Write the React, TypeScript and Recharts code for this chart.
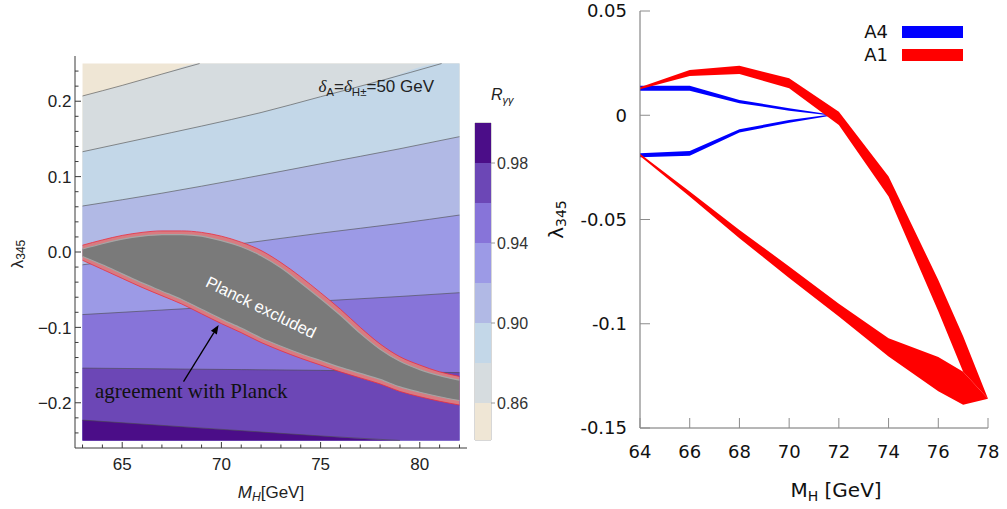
import React from "react";
import {
  Area,
  Bar,
  BarChart,
  ComposedChart,
  Legend,
  ReferenceArea,
  ReferenceDot,
  ReferenceLine,
  XAxis,
  YAxis,
} from "recharts";

const SANS = "'Liberation Sans', Arial, sans-serif";
const SERIF = "'Liberation Serif', 'Times New Roman', serif";
const GNU = "'DejaVu Sans', sans-serif";

// ---------- left panel: R_gammagamma contours ----------
const massTicks = [63, 64, 65, 66, 67, 68, 69, 70, 71, 72, 73, 74, 75, 76, 77, 78, 79, 80, 81, 82];
const massMajor = [65, 70, 75, 80];
const lambdaTicks = [
  -0.24, -0.22, -0.2, -0.18, -0.16, -0.14, -0.12, -0.1, -0.08, -0.06, -0.04, -0.02, 0,
  0.02, 0.04, 0.06, 0.08, 0.1, 0.12, 0.14, 0.16, 0.18, 0.2, 0.22, 0.24,
];
const lambdaMajor = [-0.2, -0.1, 0, 0.1, 0.2];
const massRange = [63, 82];
const lambdaRange = [-0.25, 0.25];

// R levels and band colours (low R -> high R)
const rLevels = [0.84, 0.86, 0.88, 0.9, 0.92, 0.94, 0.96, 0.98, 1.0];
const rColors = ["#efe6d5", "#d6dcdf", "#c3d7e8", "#b1b9e5", "#9c9ae6", "#8774d9", "#6c47b6", "#4b0d88"];
const rColorbarTicks = [0.86, 0.9, 0.94, 0.98];

const contour086 = [
  { m: 63, l: 0.207 }, { m: 65, l: 0.221 }, { m: 67, l: 0.236 }, { m: 68.9, l: 0.25 },
];
const contour088 = [
  { m: 63, l: 0.133 }, { m: 66, l: 0.15 }, { m: 69, l: 0.167 }, { m: 72, l: 0.185 },
  { m: 75, l: 0.206 }, { m: 78, l: 0.227 }, { m: 81.1, l: 0.25 },
];
const contour090 = [
  { m: 63, l: 0.061 }, { m: 67, l: 0.078 }, { m: 71, l: 0.097 }, { m: 75, l: 0.117 },
  { m: 79, l: 0.137 }, { m: 82, l: 0.153 },
];
const contour092 = [
  { m: 63, l: -0.017 }, { m: 67, l: -0.003 }, { m: 71, l: 0.011 }, { m: 75, l: 0.025 },
  { m: 79, l: 0.038 }, { m: 82, l: 0.049 },
];
const contour094 = [
  { m: 63, l: -0.083 }, { m: 67, l: -0.077 }, { m: 71, l: -0.071 }, { m: 75, l: -0.065 },
  { m: 79, l: -0.059 }, { m: 82, l: -0.054 },
];
const contour096 = [
  { m: 63, l: -0.154 }, { m: 67, l: -0.155 }, { m: 71, l: -0.156 }, { m: 75, l: -0.157 },
  { m: 79, l: -0.159 }, { m: 82, l: -0.16 },
];
const contour098 = [
  { m: 63, l: -0.223 }, { m: 67, l: -0.23 }, { m: 71, l: -0.237 }, { m: 75, l: -0.244 },
  { m: 79, l: -0.25 },
];
const contours = [contour086, contour088, contour090, contour092, contour094, contour096, contour098];

// Planck-excluded region
const blobMass = [63, 64, 65, 66, 67, 68, 69, 70, 71, 72, 73, 74, 75, 76, 77, 78, 79, 80, 81, 82];
const blobUpper = [0.009, 0.016, 0.022, 0.026, 0.028, 0.028, 0.026, 0.021, 0.013, 0.002, -0.014, -0.033, -0.054, -0.076, -0.1, -0.122, -0.139, -0.15, -0.159, -0.165];
const blobUpperIn = [0.004, 0.011, 0.017, 0.021, 0.023, 0.023, 0.021, 0.015, 0.007, -0.005, -0.021, -0.041, -0.062, -0.084, -0.108, -0.129, -0.145, -0.156, -0.164, -0.17];
const blobLower = [-0.011, -0.023, -0.035, -0.047, -0.058, -0.069, -0.082, -0.095, -0.107, -0.12, -0.131, -0.141, -0.15, -0.159, -0.167, -0.175, -0.185, -0.192, -0.198, -0.203];
const blobLowerIn = [-0.006, -0.017, -0.029, -0.041, -0.052, -0.063, -0.076, -0.089, -0.101, -0.114, -0.125, -0.135, -0.144, -0.153, -0.161, -0.169, -0.179, -0.186, -0.192, -0.197];

// ---------- right panel: A1 / A4 bands ----------
const gnuMassTicks = [64, 66, 68, 70, 72, 74, 76, 78];
const gnuLambdaTicks = [-0.15, -0.1, -0.05, 0, 0.05];

const a1Mass = [64, 66, 68, 70, 72, 74, 76, 77, 78];
const a1UpperLo = [0.0125, 0.0188, 0.0198, 0.0129, -0.0047, -0.039, -0.094, -0.123, -0.136];
const a1UpperHi = [0.0134, 0.0217, 0.0238, 0.0177, 0.0017, -0.0294, -0.079, -0.106, -0.136];
const a1LowerLo = [-0.0196, -0.039, -0.059, -0.078, -0.0965, -0.1157, -0.1324, -0.1388, -0.136];
const a1LowerHi = [-0.0185, -0.0366, -0.055, -0.0725, -0.0904, -0.1069, -0.116, -0.123, -0.136];

const a4Mass = [64, 66, 68, 70, 71.6];
const a4UpperLo = [0.0118, 0.0118, 0.0058, 0.0022, 0.0];
const a4UpperHi = [0.0141, 0.0142, 0.0073, 0.0034, 0.0005];
const a4LowerLo = [-0.0201, -0.0194, -0.0083, -0.0036, -0.0003];
const a4LowerHi = [-0.0182, -0.0171, -0.0067, -0.0023, 0.0002];

const legendItems = [
  { name: "A4", color: "#0000ff" },
  { name: "A1", color: "#ff0000" },
];

// ---------- helpers ----------
type Side = "bottom" | "top" | "left" | "right";
interface TickCfg {
  side: Side;
  gap: number;
  majors: number[];
  majorLen: number;
  minorLen: number;
  stroke: string;
  format?: (v: number) => string;
  family?: string;
  size?: number;
  fill?: string;
  dy?: string;
}

const makeTick = (c: TickCfg) => (p: any) => {
  const { x, y } = p;
  const v = p.payload.value as number;
  const isMajor = c.majors.some((t) => Math.abs(t - v) < 1e-9);
  const len = isMajor ? c.majorLen : c.minorLen;
  let x1 = x, y1 = y, x2 = x, y2 = y;
  if (c.side === "bottom") { y1 = y - c.gap; y2 = y1 - len; }
  if (c.side === "top") { y1 = y + c.gap; y2 = y1 + len; }
  if (c.side === "left") { x1 = x + c.gap; x2 = x1 + len; }
  if (c.side === "right") { x1 = x - c.gap; x2 = x1 - len; }
  return (
    <g>
      <line x1={x1} y1={y1} x2={x2} y2={y2} stroke={c.stroke} strokeWidth={1} />
      {c.format && isMajor && (
        <text
          x={x}
          y={y}
          dy={c.dy}
          textAnchor={c.side === "left" ? "end" : "middle"}
          fontFamily={c.family}
          fontSize={c.size}
          fill={c.fill}
        >
          {c.format(v)}
        </text>
      )}
    </g>
  );
};

const fmtLambda = (v: number) =>
  v === 0 ? "0.0" : v < 0 ? "\u2212" + Math.abs(v).toFixed(1) : v.toFixed(1);

const toFill = (pts: { m: number; l: number }[]) => {
  const last = pts[pts.length - 1];
  return last.m < massRange[1] ? [...pts, { m: massRange[1], l: last.l }] : pts;
};

const blobRows = blobMass.map((m, i) => ({
  m,
  outer: [blobLower[i], blobUpper[i]],
  inner: [blobLowerIn[i], blobUpperIn[i]],
}));
const baseRows = [
  { m: massRange[0], l: lambdaRange[1] },
  { m: massRange[1], l: lambdaRange[1] },
];

const bandRows = (mass: number[], lo: number[], hi: number[]) =>
  mass.map((m, i) => ({ m, v: [lo[i], hi[i]] }));

const FRAME = "#3a3a3a";
const LEFT_DOMAIN_X: [number, number] = [62.62, 82.38];
const LEFT_DOMAIN_Y: [number, number] = [-0.26, 0.26];

const leftXLabel = (props: any) => {
  const { x, y, width } = props.viewBox;
  return (
    <text x={x + width / 2} y={y + 50} textAnchor="middle" fontFamily={SANS} fontSize={17} fill="#222">
      <tspan fontStyle="italic">M</tspan>
      <tspan fontStyle="italic" fontSize={12} dy={3}>H</tspan>
      <tspan dy={-3}>[GeV]</tspan>
    </text>
  );
};

const leftYLabel = (props: any) => {
  const { x, y, height } = props.viewBox;
  const cx = x + 17;
  const cy = y + height / 2 + 2;
  return (
    <text
      transform={`rotate(-90 ${cx} ${cy})`}
      x={cx}
      y={cy}
      textAnchor="middle"
      dominantBaseline="central"
      fontFamily={SANS}
      fontSize={17}
      fill="#222"
    >
      <tspan>λ</tspan>
      <tspan fontSize={12} dy={4}>345</tspan>
    </text>
  );
};

const arrowShape = (p: any) => {
  const { x1, y1, x2, y2 } = p;
  const dx = x2 - x1;
  const dy = y2 - y1;
  const len = Math.sqrt(dx * dx + dy * dy) || 1;
  const ux = dx / len;
  const uy = dy / len;
  const hl = 9;
  const hw = 3.5;
  const bx = x2 - ux * hl;
  const by = y2 - uy * hl;
  return (
    <g>
      <line x1={x1} y1={y1} x2={bx} y2={by} stroke="#000" strokeWidth={1.3} />
      <polygon
        points={`${x2},${y2} ${bx - uy * hw},${by + ux * hw} ${bx + uy * hw},${by - ux * hw}`}
        fill="#000"
      />
    </g>
  );
};

const LeftPanel = () => (
  <ComposedChart width={530} height={509} margin={{ top: 56, right: 63, bottom: 0, left: 0 }}>
    <Area
      data={baseRows}
      dataKey="l"
      type="linear"
      baseValue={lambdaRange[0]}
      fill={rColors[0]}
      fillOpacity={1}
      stroke="none"
      isAnimationActive={false}
    />
    {contours.map((c, i) => (
      <Area
        key={"a" + i}
        data={toFill(c)}
        dataKey="l"
        type="monotone"
        baseValue={lambdaRange[0]}
        fill={rColors[i + 1]}
        fillOpacity={1}
        stroke="none"
        isAnimationActive={false}
      />
    ))}
    {contours.map((c, i) => (
      <Area
        key={"l" + i}
        data={c}
        dataKey="l"
        type="monotone"
        baseValue={lambdaRange[0]}
        fill="none"
        stroke="#4a4a4a"
        strokeOpacity={0.75}
        strokeWidth={0.8}
        isAnimationActive={false}
      />
    ))}
    <Area
      data={blobRows}
      dataKey="outer"
      type="monotone"
      fill="#d87b81"
      fillOpacity={1}
      stroke="#ee2c3c"
      strokeWidth={0.8}
      isAnimationActive={false}
    />
    <Area
      data={blobRows}
      dataKey="inner"
      type="monotone"
      fill="#7a7a7a"
      fillOpacity={1}
      stroke="#a5a5a5"
      strokeWidth={1.2}
      isAnimationActive={false}
    />
    <ReferenceDot
      x={72.0}
      y={-0.073}
      r={0}
      shape={(p: any) => (
        <text
          x={p.cx}
          y={p.cy}
          transform={`rotate(26 ${p.cx} ${p.cy})`}
          textAnchor="middle"
          dominantBaseline="central"
          fill="#ffffff"
          fontFamily={SANS}
          fontSize={16.5}
        >
          Planck excluded
        </text>
      )}
    />
    <ReferenceDot
      x={63.63}
      y={-0.1937}
      r={0}
      shape={(p: any) => (
        <text x={p.cx} y={p.cy} fill="#111" fontFamily={SERIF} fontSize={21}>
          agreement with Planck
        </text>
      )}
    />
    <ReferenceDot
      x={74.89}
      y={0.2118}
      r={0}
      shape={(p: any) => (
        <text x={p.cx} y={p.cy} fill="#222" fontFamily={SANS} fontSize={17}>
          <tspan fontFamily={SERIF} fontStyle="italic">δ</tspan>
          <tspan fontSize={11.5} dy={4}>A</tspan>
          <tspan dy={-4}>=</tspan>
          <tspan fontFamily={SERIF} fontStyle="italic">δ</tspan>
          <tspan fontSize={11.5} dy={4}>H±</tspan>
          <tspan dy={-4}>=50 GeV</tspan>
        </text>
      )}
    />
    <ReferenceLine
      segment={[
        { x: 68.09, y: -0.172 },
        { x: 69.86, y: -0.0969 },
      ]}
      shape={arrowShape}
    />
    <XAxis
      type="number"
      dataKey="m"
      domain={LEFT_DOMAIN_X}
      allowDataOverflow
      ticks={massTicks}
      interval={0}
      height={61}
      tickSize={0}
      tickMargin={10}
      tickLine={false}
      axisLine={{ stroke: FRAME }}
      tick={makeTick({
        side: "bottom", gap: 10, majors: massMajor, majorLen: 6, minorLen: 3.5, stroke: FRAME,
        format: (v) => String(v), family: SANS, size: 17, fill: "#222", dy: "0.72em",
      })}
      label={leftXLabel}
    />
    <XAxis
      xAxisId="top"
      orientation="top"
      type="number"
      domain={LEFT_DOMAIN_X}
      allowDataOverflow
      ticks={massTicks}
      interval={0}
      height={0}
      tickSize={0}
      tickMargin={0}
      tickLine={false}
      axisLine={{ stroke: FRAME }}
      tick={makeTick({ side: "top", gap: 0, majors: massMajor, majorLen: 6, minorLen: 3.5, stroke: FRAME })}
    />
    <YAxis
      type="number"
      domain={LEFT_DOMAIN_Y}
      allowDataOverflow
      ticks={lambdaTicks}
      interval={0}
      width={75}
      tickSize={0}
      tickMargin={3.5}
      tickLine={false}
      axisLine={{ stroke: FRAME }}
      tick={makeTick({
        side: "left", gap: 3.5, majors: lambdaMajor, majorLen: 6, minorLen: 3.5, stroke: FRAME,
        format: fmtLambda, family: SANS, size: 17, fill: "#222", dy: "0.36em",
      })}
      label={leftYLabel}
    />
    <YAxis
      yAxisId="right"
      orientation="right"
      type="number"
      domain={LEFT_DOMAIN_Y}
      allowDataOverflow
      ticks={lambdaTicks}
      interval={0}
      width={0}
      tickSize={0}
      tickMargin={0}
      tickLine={false}
      axisLine={{ stroke: FRAME }}
      tick={makeTick({ side: "right", gap: 0, majors: lambdaMajor, majorLen: 6, minorLen: 3.5, stroke: FRAME })}
    />
  </ComposedChart>
);

// colour bar rows built from the level list
const colorbarRow: Record<string, number | string> = { name: "R", base: rLevels[0] };
rColors.forEach((_, i) => {
  colorbarRow["b" + i] = rLevels[i + 1] - rLevels[i];
});

const Colorbar = () => (
  <BarChart
    width={70}
    height={340}
    data={[colorbarRow]}
    margin={{ top: 13, right: 0, bottom: 10, left: 5 }}
    barCategoryGap={0}
  >
    <XAxis dataKey="name" hide />
    <YAxis
      orientation="right"
      type="number"
      domain={[0.8415, 1]}
      allowDataOverflow
      ticks={rColorbarTicks}
      interval={0}
      width={49}
      tickSize={4}
      tickMargin={2}
      axisLine={false}
      tickLine={{ stroke: "#9a9a9a" }}
      tick={{ fontSize: 16, fill: "#333", fontFamily: SANS }}
      tickFormatter={(v: number) => v.toFixed(2)}
    />
    <Bar dataKey="base" stackId="c" fill="none" isAnimationActive={false} />
    {rColors.map((c, i) => (
      <Bar key={c} dataKey={"b" + i} stackId="c" fill={c} isAnimationActive={false} />
    ))}
    <ReferenceArea y1={0.8415} y2={1} fill="none" stroke="#b0b0b0" />
  </BarChart>
);

// ---------- right panel ----------
const GNU_FRAME = "#6f6f6f";
const GNU_TICK = "#8c8c8c";
const RIGHT_X: [number, number] = [64, 78];
const RIGHT_Y: [number, number] = [-0.15, 0.05];

const rightXLabel = (props: any) => {
  const { x, y, width } = props.viewBox;
  return (
    <text x={x + width / 2 + 22} y={y + 69} textAnchor="middle" fontFamily={GNU} fontSize={20} fill="#111">
      <tspan>M</tspan>
      <tspan fontSize={14} dy={4}>H</tspan>
      <tspan dy={-4}> [GeV]</tspan>
    </text>
  );
};

const rightYLabel = (props: any) => {
  const { x, y, height } = props.viewBox;
  const cx = x + 26;
  const cy = y + height / 2;
  return (
    <text
      transform={`rotate(-90 ${cx} ${cy})`}
      x={cx}
      y={cy}
      textAnchor="middle"
      dominantBaseline="central"
      fontFamily={GNU}
      fontSize={20}
      fill="#111"
    >
      <tspan>λ</tspan>
      <tspan fontSize={14} dy={5}>345</tspan>
    </text>
  );
};

const GnuLegend = () => (
  <div>
    {legendItems.map((it) => (
      <div key={it.name} style={{ display: "flex", alignItems: "center", height: 23 }}>
        <span style={{ width: 48, textAlign: "right", fontFamily: GNU, fontSize: 18, color: "#111" }}>
          {it.name}
        </span>
        <span style={{ width: 61, height: 12, background: it.color, marginLeft: 14 }} />
      </div>
    ))}
  </div>
);

const RightPanel = () => (
  <ComposedChart width={477} height={509} margin={{ top: 11, right: 19, bottom: 0, left: 0 }}>
    <Area data={bandRows(a4Mass, a4UpperLo, a4UpperHi)} dataKey="v" type="linear" fill="#0000ff" fillOpacity={1} stroke="none" isAnimationActive={false} />
    <Area data={bandRows(a4Mass, a4LowerLo, a4LowerHi)} dataKey="v" type="linear" fill="#0000ff" fillOpacity={1} stroke="none" isAnimationActive={false} />
    <Area data={bandRows(a1Mass, a1UpperLo, a1UpperHi)} dataKey="v" type="linear" fill="#ff0000" fillOpacity={1} stroke="none" isAnimationActive={false} />
    <Area data={bandRows(a1Mass, a1LowerLo, a1LowerHi)} dataKey="v" type="linear" fill="#ff0000" fillOpacity={1} stroke="none" isAnimationActive={false} />
    <XAxis
      type="number"
      dataKey="m"
      domain={RIGHT_X}
      allowDataOverflow
      ticks={gnuMassTicks}
      interval={0}
      height={81}
      tickSize={0}
      tickMargin={17}
      tickLine={false}
      axisLine={{ stroke: GNU_FRAME }}
      tick={makeTick({
        side: "bottom", gap: 17, majors: gnuMassTicks, majorLen: 10, minorLen: 10, stroke: GNU_TICK,
        format: (v) => String(v), family: GNU, size: 18, fill: "#111", dy: "0.72em",
      })}
      label={rightXLabel}
    />
    <XAxis
      xAxisId="top"
      orientation="top"
      type="number"
      domain={RIGHT_X}
      allowDataOverflow
      ticks={gnuMassTicks}
      interval={0}
      height={0}
      tickSize={0}
      tickMargin={0}
      tickLine={false}
      axisLine={{ stroke: GNU_FRAME }}
      tick={makeTick({ side: "top", gap: 0, majors: gnuMassTicks, majorLen: 10, minorLen: 10, stroke: GNU_TICK })}
    />
    <YAxis
      type="number"
      domain={RIGHT_Y}
      allowDataOverflow
      ticks={gnuLambdaTicks}
      interval={0}
      width={110}
      tickSize={0}
      tickMargin={13}
      tickLine={false}
      axisLine={{ stroke: GNU_FRAME }}
      tick={makeTick({
        side: "left", gap: 13, majors: gnuLambdaTicks, majorLen: 10, minorLen: 10, stroke: GNU_TICK,
        format: (v) => String(v), family: GNU, size: 18, fill: "#111", dy: "0.36em",
      })}
      label={rightYLabel}
    />
    <YAxis
      yAxisId="right"
      orientation="right"
      type="number"
      domain={RIGHT_Y}
      allowDataOverflow
      ticks={gnuLambdaTicks}
      interval={0}
      width={0}
      tickSize={0}
      tickMargin={0}
      tickLine={false}
      axisLine={{ stroke: GNU_FRAME }}
      tick={makeTick({ side: "right", gap: 0, majors: gnuLambdaTicks, majorLen: 10, minorLen: 10, stroke: GNU_TICK })}
    />
    <Legend
      layout="vertical"
      align="center"
      verticalAlign="middle"
      content={() => <GnuLegend />}
      wrapperStyle={{ position: "absolute", left: 310, top: 20, width: 130, height: 46 }}
    />
  </ComposedChart>
);

export default function App() {
  return (
    <div
      style={{
        position: "absolute",
        left: 0,
        top: 0,
        width: 1007,
        height: 509,
        background: "#ffffff",
        overflow: "hidden",
      }}
    >
      <div style={{ position: "absolute", left: 0, top: 0 }}>
        <LeftPanel />
      </div>
      <div style={{ position: "absolute", left: 470, top: 110 }}>
        <Colorbar />
      </div>
      <div
        style={{
          position: "absolute",
          left: 491,
          top: 86,
          fontFamily: SANS,
          fontStyle: "italic",
          fontSize: 16,
          lineHeight: "18px",
          color: "#222",
        }}
      >
        R<sub style={{ fontSize: 11 }}>γγ</sub>
      </div>
      <div style={{ position: "absolute", left: 530, top: 0 }}>
        <RightPanel />
      </div>
    </div>
  );
}
